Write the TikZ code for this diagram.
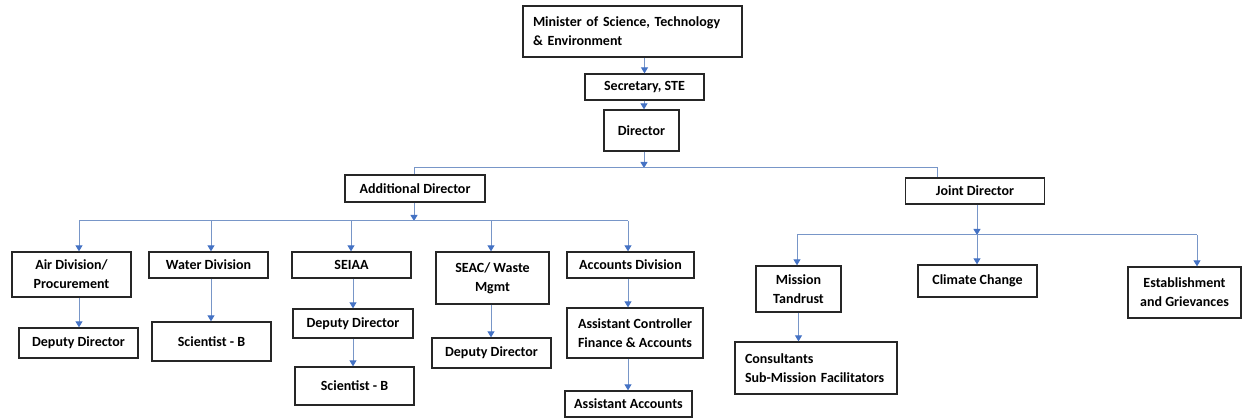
\documentclass[tikz,border=0pt]{standalone}
\usepackage{fontspec}
\setmainfont{Carlito}
\usetikzlibrary{arrows.meta}
\definecolor{linec}{RGB}{120,150,200}
\definecolor{arrc}{RGB}{68,114,196}
\tikzset{
  box/.style={draw=black!85, line width=1.3pt, fill=white, align=center, inner sep=0pt,
    font=\fontsize{14}{19}\selectfont\bfseries},
  lbox/.style={box, align=left, inner xsep=10pt},
  conn/.style={draw=linec, line width=1pt},
  arr/.style={conn, -{Triangle[width=7pt,length=6pt,fill=arrc,color=arrc]}}
}
\begin{document}
\begin{tikzpicture}[x=1pt,y=-1pt]
\useasboundingbox (0,0) rectangle (1243,419);
% top chain
\node[lbox, text width=199pt, minimum height=51pt] (min) at (632.5,31.5) {Minister of Science, Technology\\\& Environment};
\node[box, minimum width=119pt, minimum height=26pt] (sec) at (644.5,87) {Secretary, STE};
\node[box, minimum width=75pt, minimum height=41pt] (dir) at (641.5,130.5) {Director};
% second level
\node[box, minimum width=140pt, minimum height=27pt] (add) at (415,188.5) {Additional Director};
\node[box, minimum width=139pt, minimum height=26pt] (joint) at (975,191) {Joint Director};
% children of additional
\node[box, minimum width=119pt, minimum height=45pt] (air) at (71.5,274.5) {Air Division/\\Procurement};
\node[box, minimum width=119pt, minimum height=30pt] (dd1) at (78.5,343) {Deputy Director};
\node[box, minimum width=119pt, minimum height=26pt] (wat) at (208.5,265) {Water Division};
\node[box, minimum width=119pt, minimum height=39pt] (sb1) at (211.5,341.5) {Scientist - B};
\node[box, minimum width=119pt, minimum height=26pt] (sei) at (351.5,265) {SEIAA};
\node[box, minimum width=120pt, minimum height=29pt] (dd2) at (353,323.5) {Deputy Director};
\node[box, minimum width=119pt, minimum height=38pt] (sb2) at (354.5,386) {Scientist - B};
\node[box, minimum width=113pt, minimum height=52pt] (sea) at (492.5,278) {SEAC/ Waste\\Mgmt};
\node[box, minimum width=119pt, minimum height=30pt] (dd3) at (491.5,353) {Deputy Director};
\node[box, minimum width=127pt, minimum height=26pt] (acc) at (630.5,265) {Accounts Division};
\node[box, minimum width=136pt, minimum height=50pt] (ac) at (635,333) {Assistant Controller\\Finance \& Accounts};
\node[box, minimum width=127pt, minimum height=26pt] (aa) at (628.5,404) {Assistant Accounts};
% children of joint
\node[box, minimum width=85pt, minimum height=46pt] (mis) at (798.5,289) {Mission\\Tandrust};
\node[box, minimum width=119pt, minimum height=32pt] (cli) at (977.5,281) {Climate Change};
\node[box, minimum width=113pt, minimum height=51pt] (est) at (1184.5,292.5) {Establishment\\and Grievances};
\node[lbox, text width=142pt, minimum height=52pt] (con) at (816,368) {Consultants\\Sub-Mission Facilitators};
% bus coordinates
\coordinate (b1) at (644,168);
\coordinate (b1L) at (414,168);
\coordinate (b1R) at (937,168);
\coordinate (b2) at (414,221);
\coordinate (b2L) at (79,221);
\coordinate (b2w) at (211,221);
\coordinate (b2s) at (351,221);
\coordinate (b2e) at (491,221);
\coordinate (b2R) at (628,221);
\coordinate (b3) at (977,235);
\coordinate (b3L) at (797,235);
\coordinate (b3R) at (1197,235);
% connectors
\draw[arr] (min.south -| sec.north) -- (sec.north);
\draw[arr] (sec.south -| b1) -- (dir.north -| b1);
\draw[arr] (dir.south -| b1) -- (b1);
\draw[conn] (add.north -| b1L) -- (b1L) -- (b1R) -- (joint.north -| b1R);
\draw[arr] (add.south -| b2) -- (b2);
\draw[conn] (b2L) -- (b2R);
\draw[arr] (b2L) -- (air.north -| b2L);
\draw[arr] (b2w) -- (wat.north -| b2w);
\draw[arr] (b2s) -- (sei.north -| b2s);
\draw[arr] (b2e) -- (sea.north -| b2e);
\draw[arr] (b2R) -- (acc.north -| b2R);
\draw[arr] (air.south -| b2L) -- (dd1.north -| b2L);
\draw[arr] (wat.south -| b2w) -- (sb1.north -| b2w);
\draw[arr] (sei.south -| dd2.north) -- (dd2.north);
\draw[arr] (dd2.south) -- (sb2.north -| dd2.south);
\draw[arr] (sea.south -| b2e) -- (dd3.north -| b2e);
\draw[arr] (acc.south -| b2R) -- (ac.north -| b2R);
\draw[arr] (ac.south -| b2R) -- (aa.north -| b2R);
\draw[arr] (joint.south -| b3) -- (b3);
\draw[conn] (b3L) -- (b3R);
\draw[arr] (b3L) -- (mis.north -| b3L);
\draw[arr] (b3) -- (cli.north -| b3);
\draw[arr] (b3R) -- (est.north -| b3R);
\draw[arr] (mis.south) -- (con.north -| mis.south);
\end{tikzpicture}
\end{document}
